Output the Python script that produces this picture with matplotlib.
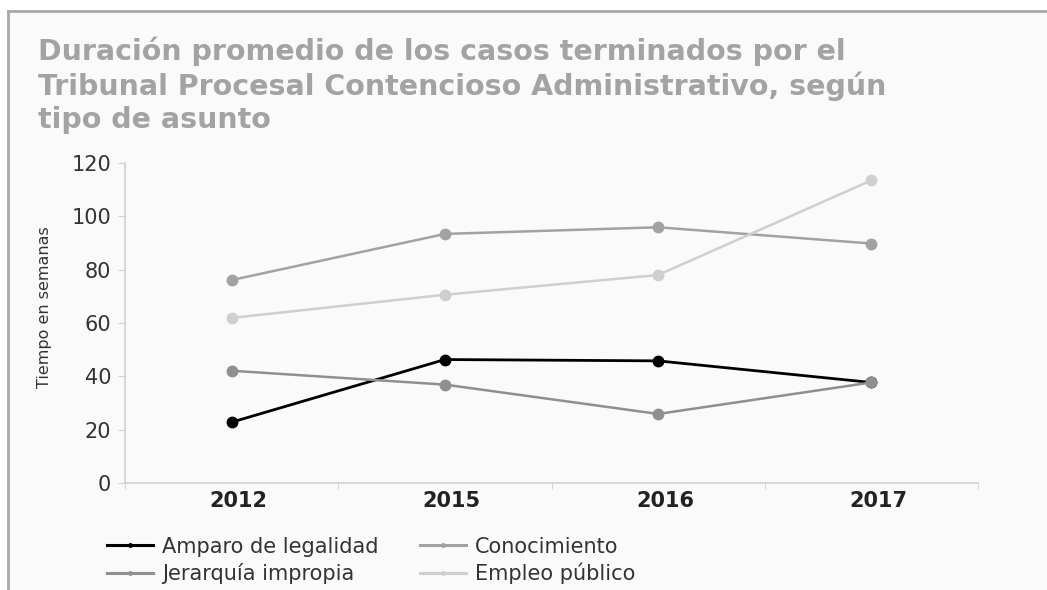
import numpy as np
import matplotlib.pyplot as plt
from matplotlib.lines import Line2D
from matplotlib.ticker import FixedLocator
from matplotlib.transforms import ScaledTranslation

years = ["2012", "2015", "2016", "2017"]
amparo = [22.8, 46.3, 45.8, 37.7]
conocimiento = [76.1, 93.4, 95.9, 89.8]
jerarquia = [42.1, 36.9, 25.9, 37.7]
empleo = [61.9, 70.6, 78.0, 113.5]

series_names = ["Amparo de legalidad", "Conocimiento", "Jerarquía impropia", "Empleo público"]
series_values = [amparo, conocimiento, jerarquia, empleo]
series_colors = ["#000000", "#a2a2a2", "#8f8f8f", "#cfcfcf"]

title = ("Duración promedio de los casos terminados por el\n"
         "Tribunal Procesal Contencioso Administrativo, según\n"
         "tipo de asunto")

W, H = 1047, 590
fig = plt.figure(figsize=(W / 100, H / 100), dpi=100, facecolor="white")

# light panel with a grey frame on top and left
fig.patches.append(plt.Rectangle((8 / W, 0), 1, 1 - 11 / H, transform=fig.transFigure,
                                 facecolor="#fafafa", edgecolor="none", zorder=-2))
fig.add_artist(Line2D([8 / W, 1], [1 - 11 / H, 1 - 11 / H], transform=fig.transFigure,
                      color="#a8a8a8", lw=2))
fig.add_artist(Line2D([8 / W, 8 / W], [0, 1 - 11 / H], transform=fig.transFigure,
                      color="#a8a8a8", lw=2))

fig.text(38 / W, 1 - 36 / H, title, ha="left", va="top", color="#a3a3a3",
         fontsize=20.5, fontweight="bold", family="DejaVu Sans", linespacing=1.24)

ax = fig.add_axes([125 / W, 107 / H, 853 / W, 320 / H])
ax.set_facecolor("none")

x = np.arange(len(years))
for name, vals, col in zip(series_names, series_values, series_colors):
    lw = 2.0 if col == "#000000" else 1.8
    ax.plot(x, vals, color=col, lw=lw, marker="o", markersize=7.5, label=name, zorder=3)

ax.set_xlim(-0.5, len(years) - 0.5)
ax.set_ylim(0, 120)
ax.set_yticks(np.arange(0, 121, 20))
ax.set_xticks(x)
ax.set_xticklabels(years, fontsize=15, fontweight="bold", color="#222222")
ax.xaxis.set_minor_locator(FixedLocator(np.arange(-0.5, len(years), 1.0)))
ax.tick_params(axis="x", which="major", length=0, pad=6)
ax.tick_params(axis="x", which="minor", length=4, color="#d0d0d0")
ax.tick_params(axis="y", length=5, color="#d0d0d0", pad=5, labelsize=15, labelcolor="#333333")

# year labels sit slightly right of the points in the original
shift = ScaledTranslation(7 / 100, 0, fig.dpi_scale_trans)
for lab in ax.xaxis.get_majorticklabels():
    lab.set_transform(lab.get_transform() + shift)

for side in ["top", "right"]:
    ax.spines[side].set_visible(False)
for side in ["left", "bottom"]:
    ax.spines[side].set_color("#d0d0d0")
    ax.spines[side].set_linewidth(1.2)

ax.set_ylabel("Tiempo en semanas", fontsize=11.5, color="#333333")
ax.yaxis.set_label_coords(-0.085, 0.55)

# legend filled row by row: Amparo, Conocimiento / Jerarquía, Empleo
order = [0, 2, 1, 3]
handles = [Line2D([0], [0], color=series_colors[i], lw=2.2, marker="o", markersize=2.5) for i in order]
labels = [series_names[i] for i in order]
fig.legend(handles, labels, loc="upper left", bbox_to_anchor=(88 / W, 1 - 518 / H),
           ncol=2, frameon=False, handlelength=2.2, handletextpad=0.45,
           columnspacing=2.0, labelspacing=0.3, prop={"family": "DejaVu Sans", "size": 15},
           labelcolor="#333333")

fig.savefig("out.png", dpi=100, facecolor="white")
